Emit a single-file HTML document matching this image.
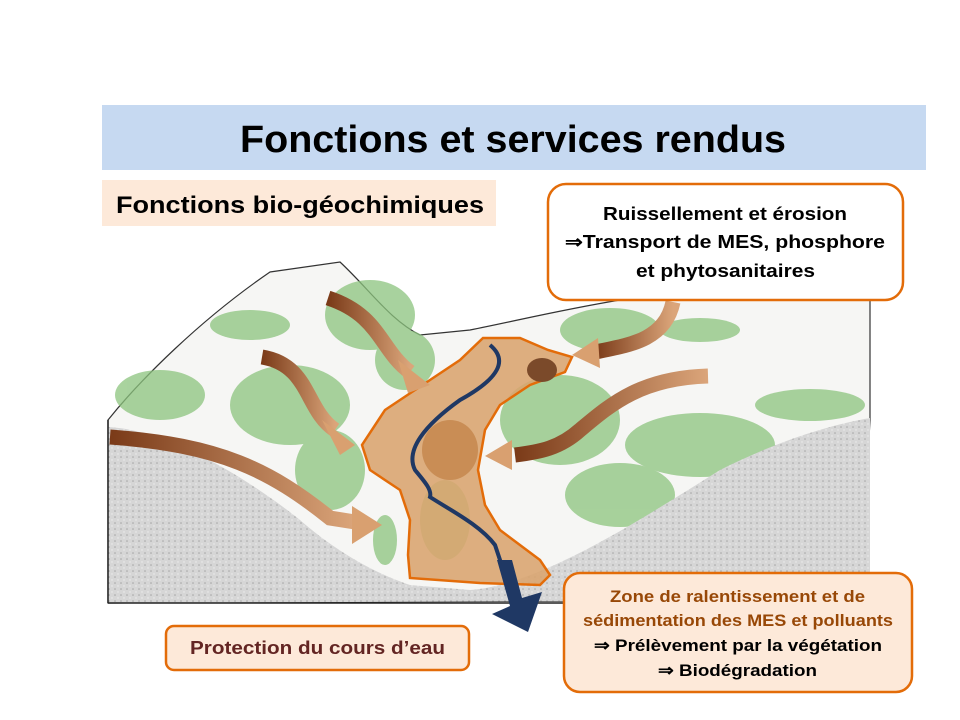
<!DOCTYPE html>
<html><head><meta charset="utf-8"><style>
html,body{margin:0;padding:0;background:#fff}
svg{display:block}
text{font-family:"Liberation Sans",sans-serif;font-weight:bold}
</style></head><body>
<svg width="960" height="720" viewBox="0 0 960 720" xmlns="http://www.w3.org/2000/svg">
<defs>
<linearGradient id="ar" x1="0" y1="0" x2="1" y2="0">
<stop offset="0" stop-color="#7a3a18"/><stop offset="1" stop-color="#dba57a"/></linearGradient>
<pattern id="st" width="6" height="6" patternUnits="userSpaceOnUse">
<rect width="6" height="6" fill="#d6d6d6"/><circle cx="1" cy="1" r="0.8" fill="#a5a5a5"/><circle cx="4" cy="4" r="0.7" fill="#eeeeee"/></pattern>
</defs>
<rect x="102" y="105" width="824" height="65" fill="#c6d9f1"/>
<text x="240" y="152" font-size="38" textLength="546" lengthAdjust="spacingAndGlyphs">Fonctions et services rendus</text>
<rect x="102" y="180" width="394" height="46" fill="#fde9d9"/>
<text x="116" y="213" font-size="24" textLength="368" lengthAdjust="spacingAndGlyphs">Fonctions bio-géochimiques</text>

<path d="M108,420 C140,380 200,320 270,272 L340,262 C370,290 390,320 420,335 L470,330 C520,320 560,310 620,300 L700,300 L870,300 L870,420 L860,600 L108,603 Z" fill="#f6f6f4" stroke="#333" stroke-width="1.2"/>
<g fill="#8cc47e" opacity="0.75">
<ellipse cx="160" cy="395" rx="45" ry="25"/><ellipse cx="250" cy="325" rx="40" ry="15"/>
<ellipse cx="370" cy="315" rx="45" ry="35"/><ellipse cx="290" cy="405" rx="60" ry="40"/>
<ellipse cx="405" cy="360" rx="30" ry="30"/><ellipse cx="330" cy="470" rx="35" ry="40"/>
<ellipse cx="560" cy="420" rx="60" ry="45"/><ellipse cx="610" cy="330" rx="50" ry="22"/>
<ellipse cx="700" cy="445" rx="75" ry="32"/><ellipse cx="810" cy="405" rx="55" ry="16"/>
<ellipse cx="620" cy="495" rx="55" ry="32"/><ellipse cx="445" cy="520" rx="25" ry="40"/>
<ellipse cx="385" cy="540" rx="12" ry="25"/><ellipse cx="700" cy="330" rx="40" ry="12"/>
</g>
<path d="M108,427 C170,430 250,480 300,520 C340,555 380,575 410,585 L470,590 C540,585 640,520 720,470 C780,440 830,425 870,418 L870,600 L108,603 Z" fill="url(#st)"/>
<line x1="108" y1="603" x2="620" y2="603" stroke="#222" stroke-width="1.5"/>
<line x1="108" y1="420" x2="108" y2="603" stroke="#222" stroke-width="1.5"/>

<path d="M483,338 L520,338 L548,350 L572,357 L565,372 L530,385 L500,405 L485,430 L478,470 L485,505 L500,530 L540,560 L550,575 L540,585 L480,583 L410,578 L408,555 L410,520 L400,490 L370,470 L362,445 L385,410 L430,380 L460,360 Z" fill="#d9a46e" fill-opacity="0.88" stroke="#e36c09" stroke-width="2.5"/>
<ellipse cx="450" cy="450" rx="28" ry="30" fill="#b87333" opacity="0.55"/>
<ellipse cx="542" cy="370" rx="15" ry="12" fill="#7b4a2a"/>
<path d="M490,345 C508,360 500,378 460,400 C425,425 405,450 415,470 C425,482 432,490 430,497 C450,510 480,525 495,545 L505,575" fill="none" stroke="#1f3864" stroke-width="4"/>
<path d="M497,560 L512,560 L522,598 L542,592 L528,632 L492,614 L510,606 Z" fill="#1f3864"/>

<g fill="none" stroke="url(#ar)" stroke-width="15" stroke-linecap="butt">
<path d="M328,298 C380,315 380,350 410,372"/>
<path d="M262,357 C310,365 305,410 335,430"/>
<path d="M110,437 C220,445 270,470 330,518 L355,522"/>
<path d="M673,302 C665,340 630,345 595,352"/>
<path d="M708,376 C640,378 610,405 580,430 C560,448 540,452 515,455"/>
</g>
<g fill="#d9a070">
<path d="M398,360 L430,385 L408,393 Z"/>
<path d="M322,420 L355,445 L340,455 Z"/>
<path d="M352,506 L382,525 L352,544 Z"/>
<path d="M598,338 L572,355 L600,368 Z"/>
<path d="M512,440 L485,456 L512,470 Z"/>
</g>

<rect x="548" y="184" width="355" height="116" rx="18" fill="#fff" stroke="#e36c09" stroke-width="2.5"/>
<text x="603" y="220" font-size="18" textLength="244" lengthAdjust="spacingAndGlyphs">Ruissellement et érosion</text>
<text x="565" y="248" font-size="18" textLength="320" lengthAdjust="spacingAndGlyphs">⇒Transport de MES, phosphore</text>
<text x="636" y="277" font-size="18" textLength="179" lengthAdjust="spacingAndGlyphs">et phytosanitaires</text>

<rect x="564" y="573" width="348" height="119" rx="16" fill="#fde9d9" stroke="#e36c09" stroke-width="2.5"/>
<text x="610" y="602" font-size="17" fill="#984807" textLength="255" lengthAdjust="spacingAndGlyphs">Zone de ralentissement  et de</text>
<text x="583" y="626" font-size="17" fill="#984807" textLength="310" lengthAdjust="spacingAndGlyphs">sédimentation  des MES et polluants</text>
<text x="594" y="651" font-size="17" textLength="288" lengthAdjust="spacingAndGlyphs">⇒ Prélèvement par  la végétation</text>
<text x="658" y="676" font-size="17" textLength="159" lengthAdjust="spacingAndGlyphs">⇒ Biodégradation</text>

<rect x="166" y="626" width="303" height="44" rx="8" fill="#fde9d9" stroke="#e36c09" stroke-width="2.5"/>
<text x="190" y="654" font-size="18" fill="#632523" textLength="255" lengthAdjust="spacingAndGlyphs">Protection du cours d’eau</text>
</svg>
</body></html>
